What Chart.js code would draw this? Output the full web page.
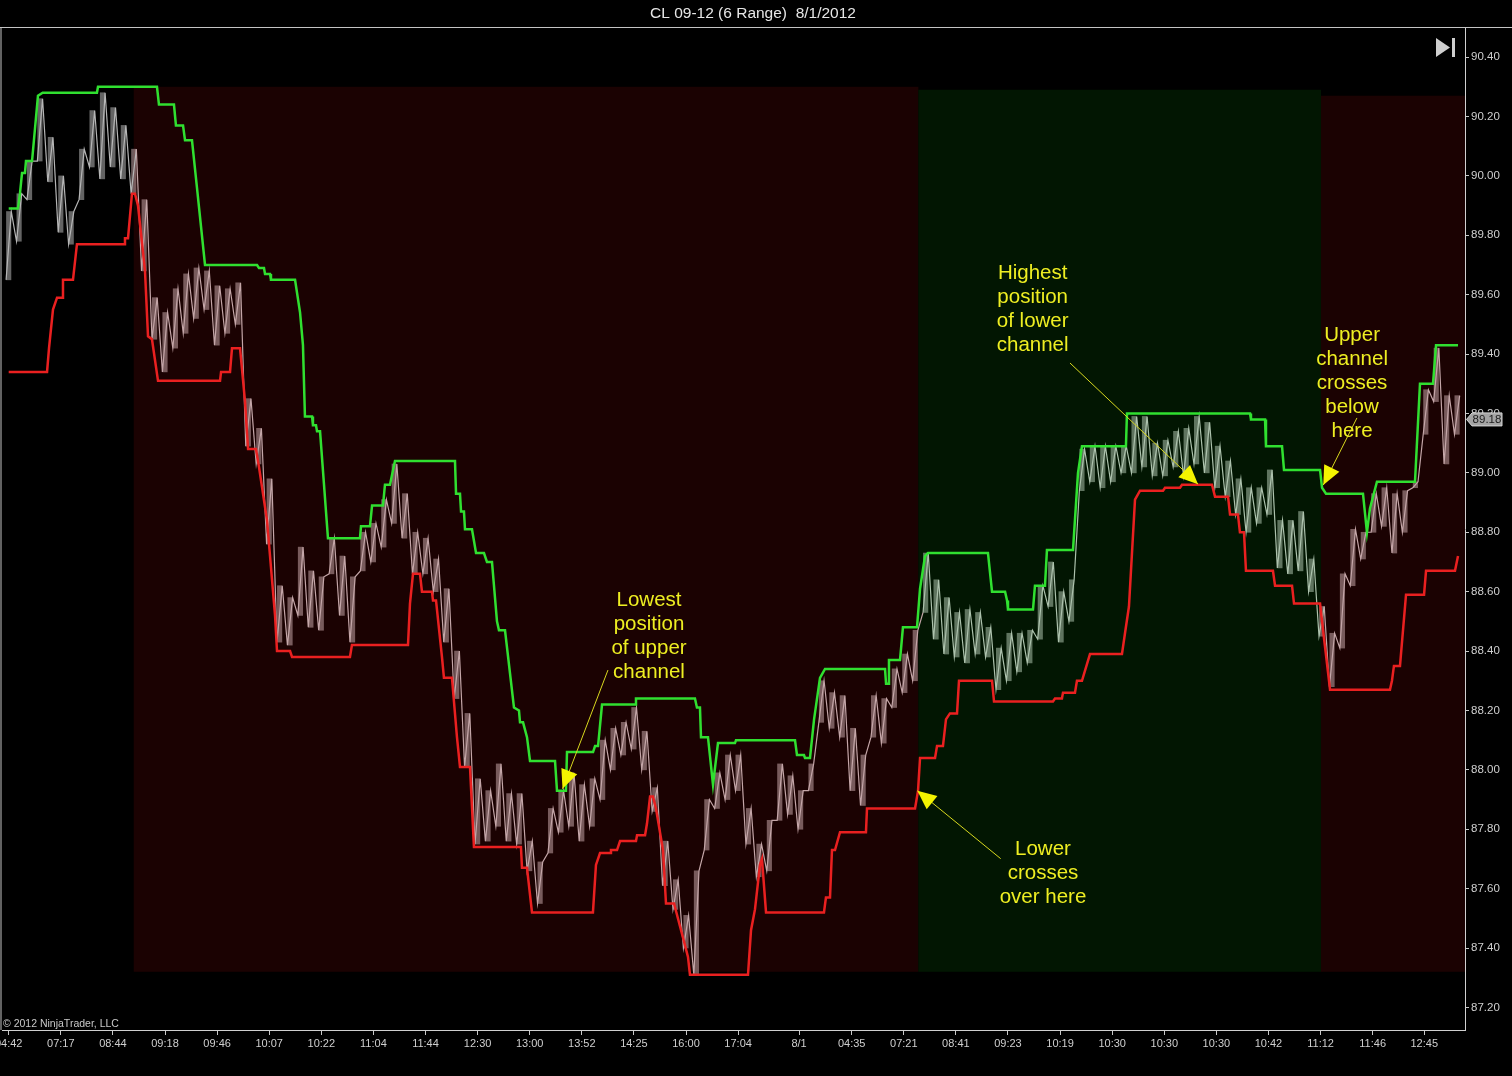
<!DOCTYPE html>
<html><head><meta charset="utf-8">
<script src="https://cdn.jsdelivr.net/npm/chart.js@4.4.1/dist/chart.umd.min.js"></script>
<style>
html,body{margin:0;padding:0;background:#000;overflow:hidden;width:1512px;height:1076px;}
#wrap{position:absolute;left:-40px;top:0;width:1552px;height:1076px;}
canvas{display:block;}
</style></head><body>
<div id="wrap"><canvas id="c" width="1552" height="1076" style="width:1552px;height:1076px"></canvas></div>
<script>
// ---------- DATA ----------
const titleText = 'CL 09-12 (6 Range)  8/1/2012';
const xTickPos = [0,5,10,15,20,25,30,35,40,45,50,55,60,65,70,75.85,80.9,85.9,90.9,95.9,100.9,105.9,110.9,115.9,120.9,125.9,130.9,135.85];
const xTickLabels = ['04:42','07:17','08:44','09:18','09:46','10:07','10:22','11:04','11:44','12:30','13:00','13:52','14:25','16:00','17:04','8/1','04:35','07:21','08:41','09:23','10:19','10:30','10:30','10:30','10:42','11:12','11:46','12:45'];
const yTickValues = [87.2,87.4,87.6,87.8,88.0,88.2,88.4,88.6,88.8,89.0,89.2,89.4,89.6,89.8,90.0,90.2,90.4];

const priceHigh = [
89.88,89.94,90.05,90.26,90.13,90.00,89.88,90.09,90.22,90.28,
90.23,90.17,90.09,89.92,89.59,89.54,89.62,89.67,89.69,89.68,
89.63,89.62,89.64,89.25,89.15,88.98,88.62,88.58,88.75,88.67,
88.65,88.78,88.72,88.65,88.80,88.83,88.91,89.03,88.93,88.80,
88.78,88.71,88.61,88.40,88.19,87.97,87.93,88.02,87.92,87.92,
87.76,87.69,87.87,87.93,87.99,87.95,87.97,88.10,88.14,88.16,
88.21,88.13,87.94,87.76,87.63,87.51,87.66,87.90,87.99,88.05,
88.05,87.87,87.75,87.83,88.02,87.98,87.93,88.02,88.30,88.26,
88.25,88.14,88.05,88.25,88.24,88.34,88.39,88.47,88.73,88.64,
88.58,88.53,88.54,88.53,88.48,88.41,88.46,88.46,88.47,88.62,
88.70,88.60,88.64,89.08,89.09,89.09,89.09,89.09,89.19,89.19,
89.10,89.11,89.14,89.15,89.19,89.17,89.09,89.04,88.98,88.95,
88.95,89.01,88.84,88.84,88.87,88.71,88.55,88.46,88.66,88.81,
88.80,88.93,88.95,88.93,88.94,88.97,89.28,89.42,89.26,89.26];
const priceLow = [
89.65,89.78,89.92,90.05,89.98,89.81,89.77,89.92,90.03,89.99,
90.03,89.99,89.94,89.68,89.45,89.34,89.42,89.47,89.52,89.55,
89.43,89.47,89.50,89.09,89.03,88.76,88.43,88.42,88.52,88.48,
88.47,88.66,88.52,88.43,88.67,88.70,88.75,88.83,88.78,88.66,
88.66,88.60,88.43,88.24,88.01,87.75,87.76,87.81,87.76,87.75,
87.66,87.55,87.72,87.79,87.81,87.76,87.81,87.90,88.00,88.05,
88.07,88.00,87.86,87.61,87.53,87.40,87.31,87.73,87.87,87.90,
87.93,87.75,87.64,87.66,87.83,87.85,87.80,87.93,88.16,88.14,
88.11,87.93,87.88,88.11,88.09,88.21,88.26,88.30,88.53,88.44,
88.39,88.38,88.36,88.39,88.38,88.27,88.30,88.33,88.36,88.44,
88.55,88.43,88.50,88.94,88.97,88.95,88.97,89.00,89.00,89.02,
88.99,88.99,89.02,88.99,89.03,89.00,88.95,88.92,88.86,88.80,
88.83,88.86,88.68,88.66,88.67,88.60,88.45,88.28,88.41,88.62,
88.71,88.80,88.82,88.73,88.80,88.95,89.13,89.24,89.03,89.13];
const lastPrice = 89.18;

const upperX = [0,0.89,1.08,1.28,1.56,1.66,2.24,2.81,3.26,8.47,8.57,14.23,14.42,15.86,16.05,16.73,16.92,17.59,18.07,18.84,23.83,24.02,24.50,24.60,25.08,25.17,27.48,27.96,28.24,28.43,29.11,29.20,29.49,29.59,29.88,30.64,33.71,33.81,34.67,34.87,35.92,36.11,36.59,37.07,42.83,42.93,43.31,43.41,43.69,43.79,44.46,44.85,45.61,45.90,46.38,46.86,47.05,47.63,48.49,48.97,49.07,49.36,49.74,50.03,52.43,52.62,53.48,53.58,56.08,56.27,56.56,56.94,60.11,60.20,65.86,66.05,66.34,66.44,67.11,67.59,68.07,69.70,69.80,75.46,75.65,76.32,76.42,76.90,77.29,77.86,78.34,84.10,84.20,84.39,84.48,85.54,85.82,87.17,87.46,87.94,88.22,93.98,94.37,95.62,95.81,95.90,98.30,98.49,99.45,99.64,102.14,102.62,103.00,107.22,107.32,119.13,119.22,120.57,120.66,122.20,122.39,125.85,126.04,126.42,129.97,130.35,130.64,131.31,134.96,135.44,136.69,136.98,139.09];
const upperV = [89.89,89.89,89.94,90.01,90.01,90.05,90.05,90.27,90.28,90.28,90.30,90.30,90.24,90.24,90.17,90.17,90.12,90.12,89.96,89.70,89.70,89.69,89.69,89.67,89.67,89.65,89.65,89.54,89.43,89.19,89.19,89.16,89.16,89.14,89.14,88.78,88.78,88.82,88.82,88.89,88.89,88.96,88.96,89.04,89.04,88.93,88.93,88.87,88.87,88.81,88.81,88.73,88.73,88.70,88.70,88.50,88.47,88.47,88.21,88.20,88.16,88.16,88.11,88.03,88.03,87.93,87.93,88.06,88.06,88.08,88.08,88.22,88.22,88.24,88.24,88.21,88.21,88.11,88.11,87.95,88.09,88.09,88.10,88.10,88.05,88.05,88.04,88.04,88.17,88.31,88.34,88.34,88.29,88.29,88.37,88.37,88.48,88.48,88.61,88.72,88.73,88.73,88.60,88.60,88.57,88.54,88.54,88.62,88.62,88.74,88.74,89.00,89.09,89.09,89.20,89.20,89.18,89.18,89.09,89.09,89.01,89.01,88.95,88.93,88.93,88.80,88.88,88.97,88.97,89.30,89.30,89.43,89.43];

const lowerX = [0,3.68,3.87,4.25,4.64,5.12,5.21,6.17,6.55,11.07,11.16,11.45,11.83,12.12,12.41,13.08,13.37,13.75,14.33,20.28,20.38,21.24,21.43,22.20,22.68,22.97,23.73,24.02,24.79,25.56,25.75,27.00,27.19,32.75,32.94,38.32,38.51,38.80,39.47,39.66,40.62,40.72,41.01,41.58,41.77,42.54,43.02,43.31,44.27,44.65,49.16,49.26,49.74,50.22,56.07,56.36,56.75,57.71,57.80,58.38,58.67,60.20,60.30,61.07,61.26,61.55,61.83,62.12,62.79,63.08,63.85,64.90,65.19,65.38,70.95,71.24,71.62,72.10,72.29,72.68,78.24,78.43,78.82,79.01,79.30,79.78,82.27,82.37,86.98,87.27,87.46,88.90,89.09,89.66,89.95,90.33,91.01,91.20,94.37,94.56,100.22,100.41,101.08,101.18,102.33,102.52,103.00,103.77,106.84,107.13,107.51,108.09,108.57,110.78,110.97,112.41,112.60,115.48,115.77,117.02,117.21,117.97,118.16,118.55,118.74,121.33,121.53,123.16,123.35,125.85,126.04,126.81,132.56,132.75,132.94,133.52,134.10,135.83,136.02,138.80,139.09];
const lowerV = [89.34,89.34,89.42,89.55,89.59,89.59,89.65,89.65,89.77,89.77,89.79,89.79,89.94,89.94,89.90,89.68,89.46,89.45,89.31,89.31,89.34,89.34,89.42,89.42,89.24,89.08,89.08,89.02,88.84,88.52,88.40,88.40,88.38,88.38,88.42,88.42,88.56,88.66,88.66,88.60,88.60,88.57,88.57,88.38,88.31,88.31,88.11,88.01,88.01,87.74,87.74,87.67,87.67,87.52,87.52,87.68,87.72,87.72,87.73,87.73,87.76,87.76,87.78,87.78,87.82,87.91,87.91,87.87,87.73,87.55,87.55,87.41,87.37,87.31,87.31,87.46,87.53,87.68,87.70,87.52,87.52,87.57,87.57,87.73,87.73,87.79,87.79,87.87,87.87,87.93,88.04,88.04,88.08,88.08,88.17,88.19,88.19,88.30,88.30,88.23,88.23,88.24,88.24,88.26,88.26,88.30,88.30,88.39,88.39,88.46,88.55,88.91,88.94,88.94,88.95,88.95,88.96,88.96,88.92,88.92,88.86,88.86,88.80,88.80,88.67,88.67,88.62,88.62,88.56,88.56,88.50,88.27,88.27,88.30,88.35,88.35,88.59,88.59,88.67,88.67,88.72];

// shaded signal regions (x in bar units, y in price)
const regionStart  = [12.0, 87.3, 125.94];
const regionEnd    = [87.3, 125.94, 140.5];
const regionTop    = [90.30, 90.29, 90.27];
const regionBottom = [87.32, 87.32, 87.32];
const regionKind   = ['short','long','short'];

// annotations (anchored in data coordinates)
const notes = [
 {lines:['Lowest','position','of upper','channel'], x:61.45, y:88.572, from:[57.51,88.336], to:[53.15,87.936]},
 {lines:['Highest','position','of lower','channel'], x:98.27, y:89.672, from:[101.85,89.370], to:[114.14,88.962]},
 {lines:['Upper','channel','crosses','below','here'], x:128.92, y:89.464, from:[129.39,89.185], to:[126.16,88.959]},
 {lines:['Lower','crosses','over here'], x:99.26, y:87.733, from:[95.20,87.701], to:[87.20,87.930]}
];

// ---------- BUILD ----------
function priceColor(xv){
  if (xv < regionStart[0]) return '#b6b6b6';
  for (let i=0;i<regionStart.length;i++){
    if (xv>=regionStart[i] && xv<regionEnd[i]) return regionKind[i]==='long' ? '#adc2ad' : '#c4a6a8';
  }
  return '#c4a6a8';
}
function priceColorDim(xv){
  if (xv < regionStart[0]) return 'rgba(182,182,182,0.55)';
  for (let i=0;i<regionStart.length;i++){
    if (xv>=regionStart[i] && xv<regionEnd[i]) return regionKind[i]==='long' ? 'rgba(173,194,173,0.55)' : 'rgba(196,166,168,0.55)';
  }
  return 'rgba(196,166,168,0.55)';
}
const zig = [];
priceLow.forEach((lo,i)=>{ zig.push({x:i-0.25,y:lo}); zig.push({x:i+0.25,y:priceHigh[i]}); });
const bars = priceLow.map((lo,i)=>({x:i, y:[lo, priceHigh[i]]}));
const upper = upperX.map((x,i)=>({x, y:upperV[i]}));
const lower = lowerX.map((x,i)=>({x, y:lowerV[i]}));

const FONT = "'Liberation Sans', Arial, sans-serif";

const decor = {
  id:'decor',
  beforeDraw(chart){
    const c=chart.ctx; c.save(); c.fillStyle='#000'; c.fillRect(0,0,chart.width,chart.height); c.restore();
  },
  beforeDatasetsDraw(chart){
    const {ctx, chartArea:a, scales:{x,y}} = chart;
    ctx.save(); ctx.beginPath(); ctx.rect(a.left,a.top,a.right-a.left,a.bottom-a.top); ctx.clip();
    for (let i=0;i<regionStart.length;i++){
      const x0=x.getPixelForValue(regionStart[i]), x1=x.getPixelForValue(regionEnd[i]);
      const y0=y.getPixelForValue(regionTop[i]), y1=y.getPixelForValue(regionBottom[i]);
      ctx.fillStyle = regionKind[i]==='long' ? '#021602' : '#1b0202';
      ctx.fillRect(x0,y0,x1-x0,y1-y0);
    }
    ctx.restore();
  },
  afterDatasetsDraw(chart){
    const {ctx, scales:{x,y}} = chart;
    ctx.save();
    notes.forEach(n=>{
      const fx=x.getPixelForValue(n.from[0]), fy=y.getPixelForValue(n.from[1]);
      const tx=x.getPixelForValue(n.to[0]), ty=y.getPixelForValue(n.to[1]);
      ctx.strokeStyle='#d8d81e'; ctx.lineWidth=1;
      ctx.beginPath(); ctx.moveTo(fx,fy); ctx.lineTo(tx,ty); ctx.stroke();
      const ang=Math.atan2(ty-fy,tx-fx), L=19, W=8.5;
      const bx=tx-L*Math.cos(ang), by=ty-L*Math.sin(ang);
      ctx.fillStyle='#f4f400';
      ctx.beginPath(); ctx.moveTo(tx,ty);
      ctx.lineTo(bx+W*Math.sin(ang), by-W*Math.cos(ang));
      ctx.lineTo(bx-W*Math.sin(ang), by+W*Math.cos(ang));
      ctx.closePath(); ctx.fill();
      ctx.font = "20.5px " + FONT;
      ctx.fillStyle='#eeee22'; ctx.textAlign='center'; ctx.textBaseline='middle';
      const cx=x.getPixelForValue(n.x), cy=y.getPixelForValue(n.y);
      n.lines.forEach((t,j)=>ctx.fillText(t,cx,cy+j*24));
    });
    ctx.restore();
  },
  afterDraw(chart){
    const {ctx, chartArea:a, scales:{y}} = chart;
    ctx.save();
    ctx.strokeStyle='#c4c4c4'; ctx.lineWidth=1;
    ctx.beginPath(); ctx.moveTo(0,a.top-0.5); ctx.lineTo(chart.width,a.top-0.5); ctx.stroke();
    ctx.beginPath(); ctx.moveTo(a.left-1,a.top); ctx.lineTo(a.left-1,a.bottom); ctx.stroke();
    // title
    ctx.fillStyle='#e6e6e6'; ctx.font="15.5px "+FONT; ctx.textAlign='center'; ctx.textBaseline='middle';
    ctx.fillText(titleText, a.left+751, 13.5);
    // copyright
    ctx.fillStyle='#c8c8c8'; ctx.font="10.5px "+FONT; ctx.textAlign='left'; ctx.textBaseline='bottom';
    ctx.fillText('\u00A9 2012 NinjaTrader, LLC', a.left+1, a.bottom-1);
    // scroll-to-end icon
    ctx.fillStyle='#cfcfcf';
    ctx.beginPath(); ctx.moveTo(a.right-29,38); ctx.lineTo(a.right-29,57); ctx.lineTo(a.right-15,47.5); ctx.closePath(); ctx.fill();
    ctx.fillRect(a.right-13,38,3,19);
    // last price marker
    const py=y.getPixelForValue(lastPrice), r=a.right;
    ctx.beginPath();
    ctx.moveTo(r+1.5,py); ctx.lineTo(r+7,py-6.5); ctx.lineTo(r+37,py-6.5); ctx.lineTo(r+37,py+6.5); ctx.lineTo(r+7,py+6.5); ctx.closePath();
    ctx.fillStyle='#a4a4a4'; ctx.fill(); ctx.strokeStyle='#d4d4d4'; ctx.stroke();
    ctx.fillStyle='#1c1c1c'; ctx.font="11.5px "+FONT; ctx.textAlign='center'; ctx.textBaseline='middle';
    ctx.fillText(lastPrice.toFixed(2), r+22, py+0.5);
    ctx.restore();
  }
};

new Chart(document.getElementById('c'), {
  type:'line',
  data:{ datasets:[
    {type:'line', label:'Upper', data:upper, borderColor:'#30e030', borderWidth:2.5, pointRadius:0, tension:0, order:0},
    {type:'line', label:'Lower', data:lower, borderColor:'#ea2020', borderWidth:2.5, pointRadius:0, tension:0, order:1},
    {type:'line', label:'PriceZig', data:zig, borderColor:'#c4a6a8', borderWidth:1.2, pointRadius:0, tension:0, order:2,
      segment:{ borderColor: c => priceColor(c.p0.parsed.x) }},
    {type:'bar', label:'Price', data:bars, barThickness:4.5, grouped:false, order:3,
      backgroundColor: c => priceColorDim(c.raw ? c.raw.x : 0)}
  ]},
  options:{
    responsive:false, animation:false, devicePixelRatio:1,
    layout:{ padding:{left:42, right:1, top:28, bottom:0} },
    plugins:{ legend:{display:false}, tooltip:{enabled:false}, title:{display:false} },
    scales:{
      x:{ type:'linear', min:-0.643, max:139.76, offset:false,
        afterBuildTicks: s => { s.ticks = xTickPos.map(v=>({value:v})); },
        afterFit: s => { s.height = 46; },
        ticks:{ autoSkip:false, maxRotation:0, color:'#cfcfcf', padding:2, font:{family:FONT, size:11},
          callback:(v,i)=>xTickLabels[i] },
        grid:{ display:true, drawOnChartArea:false, offset:false, tickLength:5, tickColor:'#c8c8c8' },
        border:{ display:true, color:'#d0d0d0', width:1 }
      },
      y:{ type:'linear', position:'right', min:87.124, max:90.498,
        afterBuildTicks: s => { s.ticks = yTickValues.map(v=>({value:v})); },
        afterFit: s => { s.width = 46; },
        ticks:{ color:'#cfcfcf', padding:2, font:{family:FONT, size:11.5}, callback:v=>Number(v).toFixed(2) },
        grid:{ display:true, drawOnChartArea:false, tickLength:4, tickColor:'#c8c8c8' },
        border:{ display:true, color:'#d0d0d0', width:1 }
      }
    }
  },
  plugins:[decor]
});
</script></body></html>
